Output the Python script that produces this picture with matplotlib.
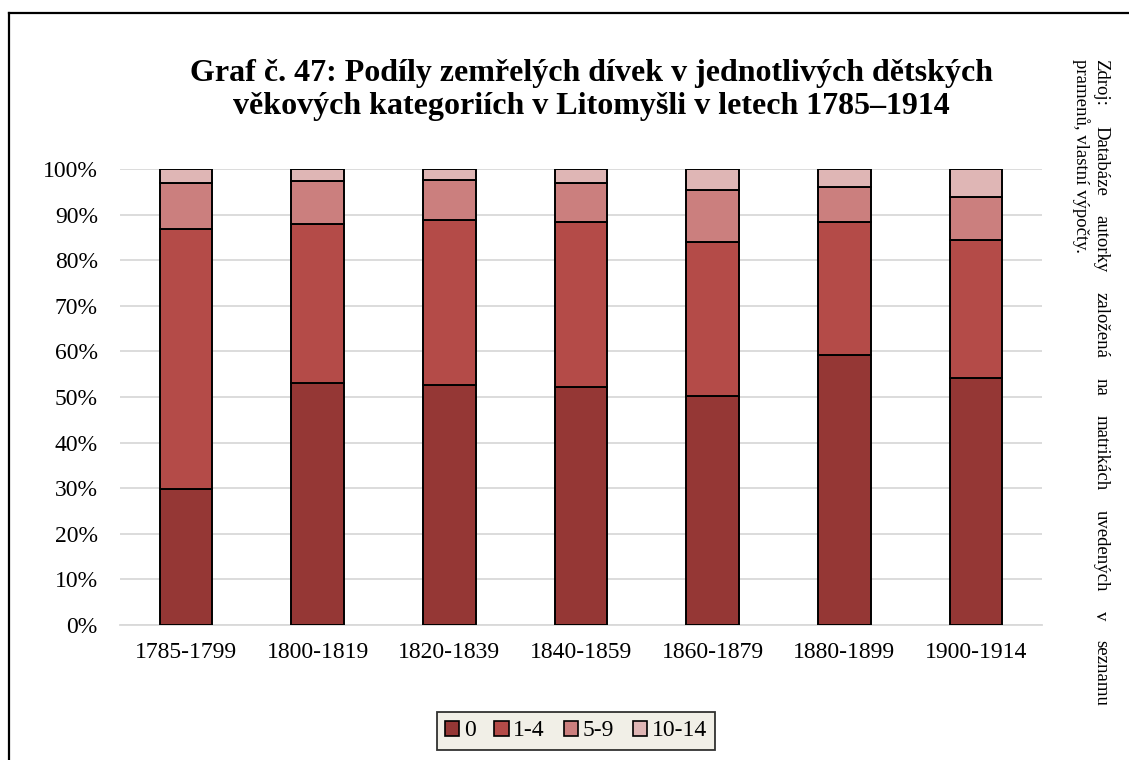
import matplotlib
matplotlib.use("Agg")
import matplotlib.pyplot as plt
from matplotlib.lines import Line2D
from matplotlib.patches import Patch
import numpy as np

# Data: share of deceased girls by age group (percent)
periods = ["1785-1799", "1800-1819", "1820-1839", "1840-1859",
           "1860-1879", "1880-1899", "1900-1914"]
age_groups = ["0", "1-4", "5-9", "10-14"]
share_0 = [29.8, 53.0, 52.6, 52.1, 50.2, 59.2, 54.2]
share_1_4 = [57.1, 35.0, 36.2, 36.2, 33.9, 29.2, 30.2]
share_5_9 = [10.1, 9.4, 8.8, 8.7, 11.2, 7.6, 9.5]
share_10_14 = [3.0, 2.6, 2.4, 3.0, 4.7, 4.0, 6.1]
colors = ["#953735", "#B44B48", "#CB7F7E", "#DFB6B5"]
yticks = [0, 10, 20, 30, 40, 50, 60, 70, 80, 90, 100]

title = ("Graf č. 47: Podíly zemřelých dívek v jednotlivých dětských\n"
         "věkových kategoriích v Litomyšli v letech 1785–1914")
source_line1 = "Zdroj: Databáze autorky založená na matrikách uvedených v seznamu"
source_line2 = "pramenů, vlastní výpočty."

plt.rcParams["font.family"] = ["Liberation Serif", "DejaVu Serif"]

W, H = 1129, 760
fig = plt.figure(figsize=(W / 100, H / 100), dpi=100)
ax = fig.add_axes([120 / W, 1 - 625 / H, (1042 - 120) / W, (625 - 169) / H])

x = np.arange(len(periods))
series = [share_0, share_1_4, share_5_9, share_10_14]
bottom = np.zeros(len(periods))
for vals, col, lab in zip(series, colors, age_groups):
    ax.bar(x, vals, width=0.40, bottom=bottom, color=col, edgecolor="black",
           linewidth=1.4, label=lab, zorder=3)
    bottom += np.array(vals)

ax.set_xlim(-0.5, len(periods) - 0.5)
ax.set_ylim(0, 100)
ax.set_yticks(yticks)
ax.set_yticklabels([f"{v}%" for v in yticks], fontsize=17)
ax.set_xticks(x)
ax.set_xticklabels(periods, fontsize=17)
ax.tick_params(axis="both", length=0)
ax.tick_params(axis="y", pad=16)
ax.tick_params(axis="x", pad=12)
ax.grid(axis="y", color="#D9D9D9", linewidth=1.3, zorder=0)
for s in ["top", "right", "left"]:
    ax.spines[s].set_visible(False)
ax.spines["bottom"].set_color("#D9D9D9")
ax.spines["bottom"].set_linewidth(1.3)

fig.text(591 / W, 1 - 90 / H, title, ha="center", va="center",
         fontsize=23, fontweight="bold", linespacing=1.2)

handles = [Patch(facecolor=c, edgecolor="black", linewidth=1.2) for c in colors]
leg = fig.legend(handles, age_groups, loc="center", bbox_to_anchor=(576 / W, 1 - 731 / H),
                 ncol=4, fontsize=17, frameon=True, fancybox=False,
                 handlelength=0.6, handleheight=0.6, handletextpad=0.2,
                 columnspacing=0.8, borderpad=0.35)
leg.get_frame().set_facecolor("#EEECE1")
leg.get_frame().set_edgecolor("black")
leg.get_frame().set_linewidth(1.3)

# Outer frame: top and left edges
fig.add_artist(Line2D([9 / W, 9 / W], [0, 1 - 13 / H], transform=fig.transFigure,
                      color="black", linewidth=1.6))
fig.add_artist(Line2D([9 / W, 1], [1 - 13 / H, 1 - 13 / H], transform=fig.transFigure,
                      color="black", linewidth=1.6))

# Vertical source note; first line justified between top and bottom limits
fig.canvas.draw()
renderer = fig.canvas.get_renderer()
words = source_line1.split(" ")
y_top, y_bot = 59, 706
x_line1 = 1101
tmp = []
total = 0.0
for w in words:
    t = fig.text(0, 0, w, fontsize=13.5, rotation=-90, ha="center", va="top")
    bb = t.get_window_extent(renderer)
    tmp.append((t, bb.height))
    total += bb.height
gap = (y_bot - y_top - total) / (len(words) - 1)
ypos = y_top
for t, h in tmp:
    t.set_position((x_line1 / W, 1 - ypos / H))
    ypos += h + gap
fig.text(1081 / W, 1 - y_top / H, source_line2, fontsize=13.5, rotation=-90,
         ha="center", va="top")

fig.savefig("out.png", dpi=100)
